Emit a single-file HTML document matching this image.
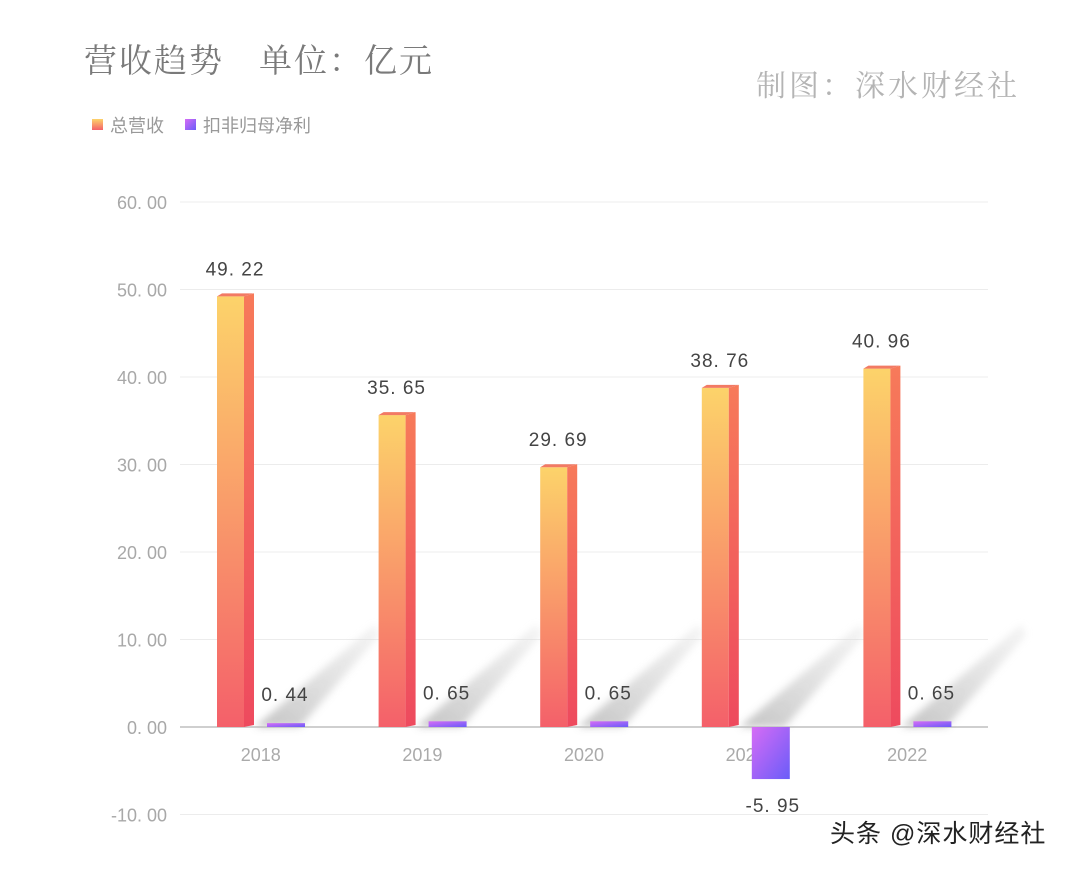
<!DOCTYPE html>
<html><head><meta charset="utf-8"><style>
body{margin:0;background:#fff;width:1080px;height:871px;overflow:hidden;font-family:"Liberation Sans","Noto Sans CJK SC",sans-serif}
</style></head><body>
<svg id="c" width="1080" height="871" xmlns="http://www.w3.org/2000/svg">
<defs>
<linearGradient id="gRev" x1="0" y1="0" x2="0" y2="1"><stop offset="0" stop-color="#fcd36a"/><stop offset="0.5" stop-color="#f99a6a"/><stop offset="1" stop-color="#f4606a"/></linearGradient>
<linearGradient id="gRevS" x1="0" y1="0" x2="0" y2="1"><stop offset="0" stop-color="#f77a5a"/><stop offset="1" stop-color="#ee4a5e"/></linearGradient>
<linearGradient id="gNet" x1="0" y1="0" x2="1" y2="1"><stop offset="0" stop-color="#d66cf6"/><stop offset="1" stop-color="#6a5cf8"/></linearGradient>
<linearGradient id="gSh" x1="0" y1="1" x2="1" y2="0"><stop offset="0" stop-color="#bdbdbd" stop-opacity="1"/><stop offset="1" stop-color="#e0e0e0" stop-opacity="0.4"/></linearGradient>
<filter id="blur"><feGaussianBlur stdDeviation="4"/></filter>
</defs>
<text x="84" y="72" font-size="33" letter-spacing="2" fill="#7a7a7a" font-family="'Noto Serif CJK SC',serif">营收趋势　单位：亿元</text>
<text x="756" y="96" font-size="30" letter-spacing="3" fill="#b4b4b4" font-family="'Noto Serif CJK SC',serif">制图：深水财经社</text>
<g>
<rect x="92" y="119" width="11" height="11" fill="url(#gRev)"/>
<text x="110" y="132" font-size="18" fill="#999">总营收</text>
<rect x="185" y="119" width="11" height="11" fill="url(#gNet)"/>
<text x="203" y="132" font-size="18" fill="#999">扣非归母净利</text>
</g>
<g id="grid"></g><g id="shadows"></g><g id="bars"></g><g id="labels"></g>
<text x="830" y="842" font-size="25" letter-spacing="1" fill="#222">头条 @深水财经社</text>
</svg>
<script>
const categories=["2018","2019","2020","2021","2022"];
const revenue=[49.22,35.65,29.69,38.76,40.96];
const netProfit=[0.44,0.65,0.65,-5.95,0.65];
const yTicks=[60,50,40,30,20,10,0,-10];
const NS="http://www.w3.org/2000/svg";
const x0=180,x1=988,band=(x1-x0)/categories.length;
const y=v=>727-v*8.75;
function mk(t,a,p){const e=document.createElementNS(NS,t);for(const k in a)e.setAttribute(k,a[k]);document.getElementById(p).appendChild(e);return e;}
yTicks.forEach(t=>{
 const l=mk('line',{x1:x0,x2:x1,y1:y(t),y2:y(t),stroke:t===0?'#cfcfcf':'#ececec','stroke-width':t===0?2:1},'grid');
 
 
 const s=mk('text',{x:167,y:y(t)+7,'text-anchor':'end','font-size':18,fill:'#a8a8a8'},'grid');
 s.textContent=t.toFixed(2).replace('.','. ');
 
 
});
categories.forEach((c,i)=>{
 const bx=x0+band*i;
 const t=mk('text',{x:bx+band/2,y:761,'text-anchor':'middle','font-size':18,fill:'#aaa'},'grid');
 t.textContent=c;
 
 
 const sh=mk('polygon',{points:`${bx+75},${y(0)} ${bx+120},${y(0)} ${bx+200},${y(10)-5} ${bx+195},${y(10)-15}`,fill:'url(#gSh)',filter:'url(#blur)',opacity:0.9},'shadows');
 
 
 const fx=bx+37,top=y(revenue[i]),w=27,d=10;
 const g=mk('g',{},'bars');
 
 
 const f=document.createElementNS(NS,'rect');f.setAttribute('x',fx);f.setAttribute('y',top);f.setAttribute('width',w);f.setAttribute('height',y(0)-top);f.setAttribute('fill','url(#gRev)');g.appendChild(f);
 const sd=document.createElementNS(NS,'polygon');sd.setAttribute('points',`${fx+w},${top} ${fx+w+d},${top-3} ${fx+w+d},${y(0)-2} ${fx+w},${y(0)}`);sd.setAttribute('fill','url(#gRevS)');g.appendChild(sd);
 const tp=document.createElementNS(NS,'polygon');tp.setAttribute('points',`${fx},${top} ${fx+5},${top-3} ${fx+w+d},${top-3} ${fx+w},${top}`);tp.setAttribute('fill','#f27a64');g.appendChild(tp);
 const rl=mk('text',{x:fx+18,y:top-21,'text-anchor':'middle','font-size':19,'letter-spacing':1,fill:'#444'},'labels');
 rl.textContent=revenue[i].toFixed(2).replace('.','. ');
 
 
 const v=netProfit[i],px=bx+87,pw=38;
 const h=Math.max(Math.abs(y(v)-y(0)),3);
 const pb=mk('rect',{x:px,y:v>=0?y(0)-h:y(0),width:pw,height:h,fill:'url(#gNet)'},'bars');
 
 
 const pl=mk('text',{x:px+(v<0?2:-1)+pw/2,y:v>=0?y(v)-22:y(v)+33,'text-anchor':'middle','font-size':19,'letter-spacing':1,fill:'#444'},'labels');
 pl.textContent=(v<0?'-':'')+Math.abs(v).toFixed(2).replace('.','. ');
 
 
});
</script>
</body></html>
